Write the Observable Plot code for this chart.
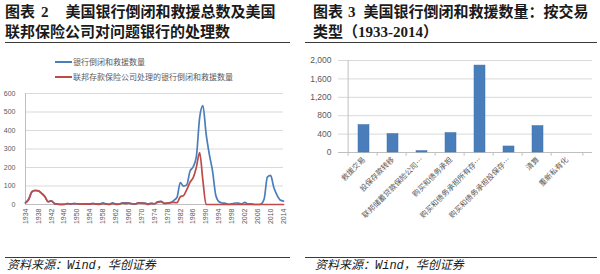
<!DOCTYPE html>
<html>
<head>
<meta charset="utf-8">
<script src="https://cdn.jsdelivr.net/npm/d3@7"></script>
<script src="https://cdn.jsdelivr.net/npm/@observablehq/plot@0.6"></script>
<style>
  html, body { margin: 0; padding: 0; background: #fff; }
  #root { position: relative; width: 600px; height: 274px; overflow: hidden; background: #fff; }
  .abs { position: absolute; }
  .title { font-family: "Liberation Serif", "Noto Sans CJK SC", serif; font-weight: 700; font-size: 15px; color: #1a1a1a; line-height: 20px; white-space: nowrap; }
  .rule { height: 1px; background: #3a3a3a; }
  .src { font-family: "Liberation Mono", "Noto Sans CJK SC", monospace; font-style: italic; font-size: 12px; color: #1a1a1a; white-space: nowrap; line-height: 13px; }
  .leg { font-family: "Noto Sans CJK SC", sans-serif; font-size: 8px; color: #595959; white-space: nowrap; line-height: 10px; }
  .legline { height: 2px; }
</style>
</head>
<body>
<div id="root">
  <div class="abs title" style="left:5px; top:2px;">图表<span style="margin-left:6px">2</span><span style="margin-left:17px">美国银行倒闭和救援总数及美国</span></div>
  <div class="abs title" style="left:5px; top:22px;">联邦保险公司对问题银行的处理数</div>
  <div class="abs rule" style="left:5px; top:42px; width:285px;"></div>

  <div class="abs title" style="left:313px; top:2px;">图表<span style="margin-left:5px">3</span><span style="margin-left:8px">美国银行倒闭和救援数量：按交易</span></div>
  <div class="abs title" style="left:313px; top:22px;">类型（1933-2014）</div>
  <div class="abs rule" style="left:305px; top:42px; width:292px;"></div>

  <div class="abs legline" style="left:55px; top:61px; width:17px; background:#4a7ebb;"></div>
  <div class="abs leg" style="left:73px; top:57px;">银行倒闭和救援数量</div>
  <div class="abs legline" style="left:55px; top:76px; width:17px; background:#be4b48;"></div>
  <div class="abs leg" style="left:73px; top:72px;">联邦存款保险公司处理的银行倒闭和救援数量</div>

  <div id="left" class="abs" style="left:0px; top:80px;"></div>
  <div id="right" class="abs" style="left:300px; top:50px;"></div>

  <div class="abs rule" style="left:5px; top:257px; width:285px;"></div>
  <div class="abs src" style="left:7px; top:260px;">资料来源：Wind，华创证券</div>
  <div class="abs rule" style="left:305px; top:257px; width:292px;"></div>
  <div class="abs src" style="left:315px; top:260px;">资料来源：Wind，华创证券</div>
</div>
<script>
// ---------- Left chart data ----------
const years = [1934,1935,1936,1937,1938,1939,1940,1941,1942,1943,1944,1945,1946,1947,1948,1949,
  1950,1951,1952,1953,1954,1955,1956,1957,1958,1959,1960,1961,1962,1963,1964,1965,1966,1967,1968,1969,
  1970,1971,1972,1973,1974,1975,1976,1977,1978,1979,1980,1981,1982,1983,1984,1985,1986,1987,1988,1989,
  1990,1991,1992,1993,1994,1995,1996,1997,1998,1999,2000,2001,2002,2003,2004,2005,2006,2007,2008,2009,
  2010,2011,2012,2013,2014];
const totalFailures = [9,30,69,77,74,60,43,15,20,5,2,1,1,5,3,5,
  4,2,3,4,4,5,3,3,9,3,1,9,3,2,8,9,8,4,3,9,
  8,7,3,6,4,14,17,6,7,10,22,40,119,99,106,180,204,262,470,534,
  382,271,181,50,15,8,6,1,3,8,7,4,11,3,4,0,0,3,30,148,
  157,92,51,24,18];
const fdicFailures = [9,26,69,75,74,60,43,15,20,5,2,1,1,5,3,5,
  4,2,3,2,2,5,2,1,4,3,1,5,1,2,7,5,7,4,3,9,
  7,6,1,6,4,13,16,6,7,10,11,10,42,48,80,120,145,203,280,130,
  0,0,0,0,0,0,0,0,0,0,0,0,0,0,0,0,0,0,0,0,
  0,0,0,0,0];
const xTickYears = [1934,1938,1942,1946,1950,1954,1958,1962,1966,1970,1974,1978,1982,1986,1990,1994,1998,2002,2006,2010,2014];
const yTicksLeft = [0,100,200,300,400,500,600];
const seriesNames = ["银行倒闭和救援数量","联邦存款保险公司处理的银行倒闭和救援数量"];

// ---------- Right chart data ----------
const txTypes = ["救援交易","投保存款转移","联邦储蓄贷款保险公司…","购买和债务承担","购买和债务承担所有存…","购买和债务承担投保存…","清算","重新私有化"];
const txCounts = [597,401,30,423,1890,131,575,0];
const yTicksRight = [0,400,800,1200,1600,2000];

const blue = "#4a7ebb", red = "#be4b48", grid = "#d9d9d9", axisGray = "#bfbfbf";

const lineData = years.map((y, i) => ({year: y, value: totalFailures[i], series: seriesNames[0]}));
const redData = years.map((y, i) => ({year: y, value: fdicFailures[i], series: seriesNames[1]}));

const left = Plot.plot({
  width: 295, height: 178,
  marginLeft: 25, marginRight: 12, marginTop: 13, marginBottom: 54,
  style: {fontFamily: "Liberation Sans, sans-serif", fontSize: "7px", color: "#595959", background: "transparent"},
  x: {domain: [1934, 2014], label: null},
  y: {domain: [0, 600], label: null},
  marks: [
    Plot.gridY(yTicksLeft.filter(d => d > 0), {stroke: grid, strokeOpacity: 1}),
    Plot.ruleX([1934], {stroke: axisGray}),
    Plot.ruleY([0], {stroke: axisGray}),
    Plot.axisY(yTicksLeft, {tickSize: 0, tickPadding: 10, label: null}),
    Plot.axisX(xTickYears, {tickSize: 0, tickPadding: 4, tickRotate: -90, tickFormat: d => String(d), label: null}),
    Plot.line(lineData, {x: "year", y: "value", stroke: blue, strokeWidth: 1.7, curve: "monotone-x"}),
    Plot.line(redData, {x: "year", y: "value", stroke: red, strokeWidth: 1.7, curve: "monotone-x"})
  ]
});
document.getElementById("left").appendChild(left);

const barData = txTypes.map((t, i) => ({type: t, count: txCounts[i]}));
const step = (300 - 38 - 8) / txTypes.length;

const right = Plot.plot({
  width: 300, height: 208,
  marginLeft: 38, marginRight: 8, marginTop: 10, marginBottom: 106,
  style: {fontFamily: "Liberation Sans, Noto Sans CJK SC, sans-serif", fontSize: "8.5px", color: "#595959", background: "transparent"},
  x: {domain: txTypes, padding: 0.63, label: null},
  y: {domain: [0, 2000], label: null},
  marks: [
    Plot.gridY(yTicksRight.filter(d => d > 0), {stroke: grid, strokeOpacity: 1}),
    Plot.ruleY([0], {stroke: axisGray}),
    Plot.axisY(yTicksRight, {tickSize: 0, tickPadding: 7, tickFormat: d3.format(","), label: null}),
    Plot.axisX({tickSize: 0, tickPadding: 6, tickRotate: -45, label: null, fontFamily: "Noto Sans CJK SC, sans-serif", fontSize: 7.5}),
    Plot.ruleX(txTypes, {x: d => d, dx: -step / 2, y1: 0, y2: -80, stroke: axisGray}),
    Plot.ruleX([txTypes[txTypes.length - 1]], {x: d => d, dx: step / 2, y1: 0, y2: -80, stroke: axisGray}),
    Plot.ruleX([txTypes[0]], {x: d => d, dx: -step / 2, y1: 0, y2: 2000, stroke: axisGray}),
    Plot.barY(barData, {x: "type", y: "count", fill: "#4a7ebb", stroke: "#3d6fae", strokeWidth: 0.5})
  ]
});
document.getElementById("right").appendChild(right);
</script>
</body>
</html>
